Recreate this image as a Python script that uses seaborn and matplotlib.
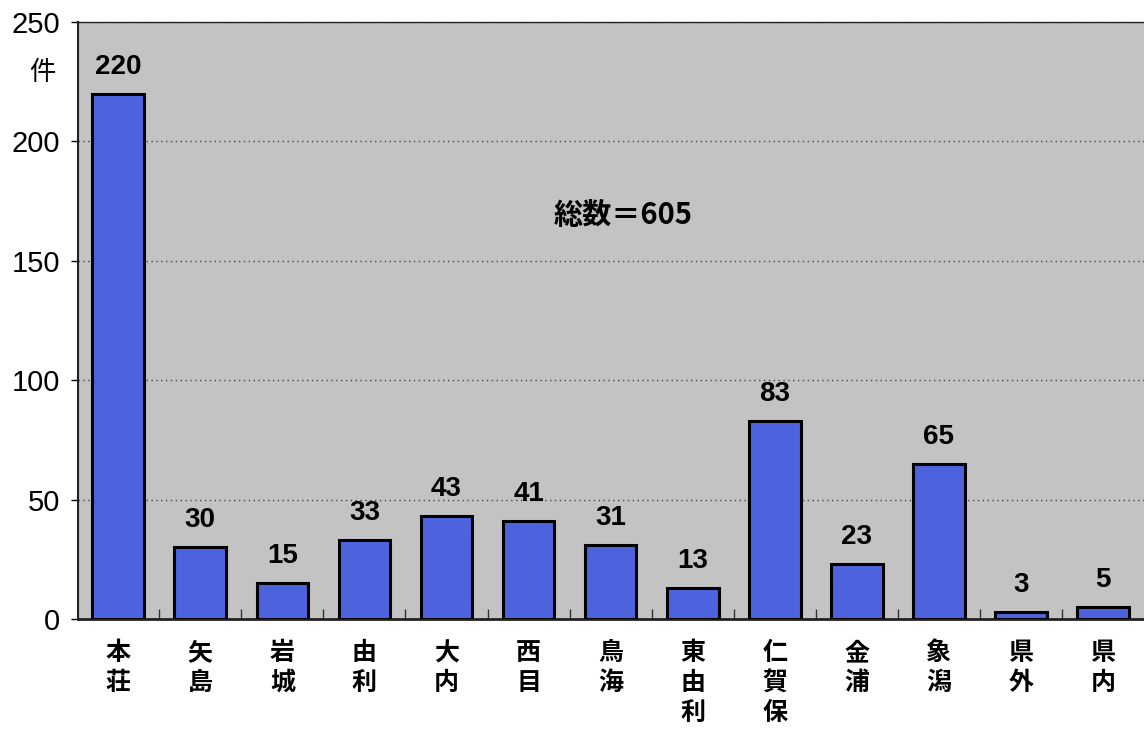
import matplotlib
matplotlib.use("Agg")
import matplotlib.pyplot as plt
import seaborn as sns
import pandas as pd

# === data ===
areas = ["本荘", "矢島", "岩城", "由利", "大内", "西目", "鳥海",
         "東由利", "仁賀保", "金浦", "象潟", "県外", "県内"]
counts = [220, 30, 15, 33, 43, 41, 31, 13, 83, 23, 65, 3, 5]
total_text = "総数＝605"
unit_text = "件"
y_ticks = [0, 50, 100, 150, 200, 250]

df = pd.DataFrame({"area": areas, "count": counts})

sns.set_theme(style="white")
plt.rcParams["font.family"] = ["Liberation Sans", "Noto Sans CJK JP", "DejaVu Sans"]
plt.rcParams["text.color"] = "black"
plt.rcParams["xtick.color"] = "black"
plt.rcParams["ytick.color"] = "black"

fig = plt.figure(figsize=(11.44, 7.29), dpi=100)
ax = fig.add_axes([0.0682, 0.1509, 0.934, 0.819])
ax.set_facecolor("#c3c3c3")

sns.barplot(data=df, x="area", y="count", color="#4d63de", saturation=1,
            edgecolor="black", linewidth=2.2, width=0.63, ax=ax, zorder=3)

# bar value labels
ax.bar_label(ax.containers[0], labels=[str(c) for c in counts], padding=10,
             fontsize=20, fontweight="bold", color="black",
             family=["Liberation Sans Narrow", "Liberation Sans"])

ax.set_xlim(-0.49, len(areas) - 0.47)
ax.set_ylim(0, 250)
ax.set_yticks(y_ticks)
ax.set_yticklabels([str(t) for t in y_ticks], fontsize=21)
ax.yaxis.grid(True, linestyle=(0, (1, 2.5)), color="#444444", linewidth=1, zorder=0)
ax.set_axisbelow(True)

# vertical CJK tick labels
ax.set_xticks(range(len(areas)))
ax.set_xticklabels(["\n".join(a) for a in areas], fontsize=18,
                   family=["Noto Sans CJK JP"], fontweight="bold",
                   linespacing=1.3, va="top")
ax.tick_params(axis="x", length=0, pad=16)
ax.tick_params(axis="y", length=5, width=1, direction="out", pad=8, left=True)

# small inward ticks between categories
ax.set_xticks([i + 0.5 for i in range(len(areas) - 1)], minor=True)
ax.tick_params(axis="x", which="minor", direction="in", length=7, width=1, color="#333333", bottom=True)

for s in ["left", "bottom", "top"]:
    ax.spines[s].set_visible(True)
    ax.spines[s].set_color("#222222")
ax.spines["left"].set_linewidth(1.5)
ax.spines["bottom"].set_linewidth(2)
ax.spines["top"].set_linewidth(1)
ax.spines["right"].set_visible(False)

ax.set_xlabel("")
ax.set_ylabel("")

fig.text(0.037, 0.901, unit_text, fontsize=19,
         family=["Noto Sans CJK JP"], ha="center", va="center")
ax.text(6.15, 169, total_text, fontsize=21, fontweight="bold",
        family=["Noto Sans CJK JP"], ha="center", va="center")

fig.savefig("out.png", dpi=100)
